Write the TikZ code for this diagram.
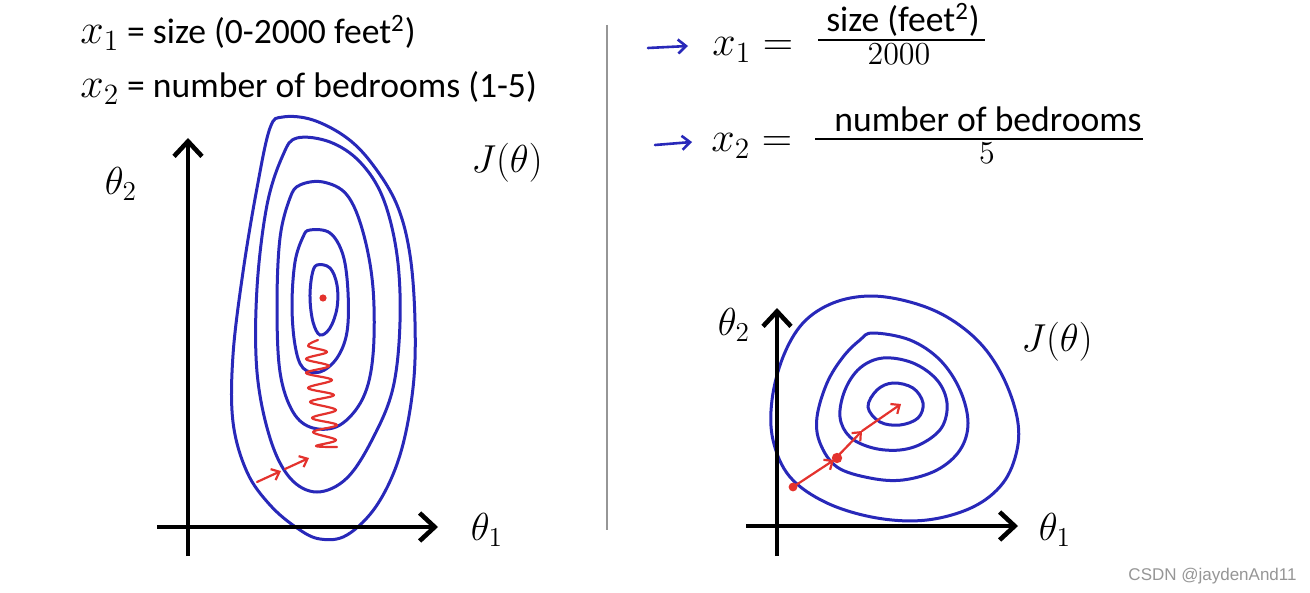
\RequirePackage{fix-cm}
\documentclass[tikz,border=0pt]{standalone}
\usepackage[no-math]{fontspec}
\setmainfont{Carlito}
\newfontfamily\wmfont{Liberation Sans}
\usetikzlibrary{arrows.meta}
\definecolor{cblue}{RGB}{40,40,185}
\definecolor{cred}{RGB}{228,50,45}
\definecolor{sepgray}{RGB}{150,150,150}
\newcommand\mymath{\fontsize{19.5}{22}\selectfont}
\newcommand\mybigmath{\fontsize{21}{24}\selectfont}
\newcommand\mytext{\fontsize{17.8}{20}\selectfont}
\tikzset{
  axis/.style={line width=2.3pt,-{Straight Barb[length=7.5pt,width=14pt,line width=2.3pt]}},
  contour/.style={cblue,line width=1.5pt},
  redpath/.style={cred,line width=1.1pt,line cap=round,line join=round},
  redarrow/.style={redpath,-{Straight Barb[length=3.5pt,width=6pt,line width=1.1pt]}},
  bluearrow/.style={cblue,line width=1.3pt,line cap=round,-{Straight Barb[length=4pt,width=7pt,line width=1.3pt]}},
  mlbl/.style={inner sep=0,font=\mymath},
  tlbl/.style={inner sep=0,font=\mytext},
}
\begin{document}
\begin{tikzpicture}[x=0.5pt,y=-0.5pt]
\useasboundingbox[fill=white] (0,0) rectangle (1310,593);

% ---------- top-left texts ----------
\node[tlbl,anchor=base west] (t1) at (80,44) {{\mybigmath$x_1$} = size (0-2000 feet\textsuperscript{2})};
\node[tlbl,anchor=base west] (t2) at (80,98) {{\mybigmath$x_2$} = number of bedrooms (1-5)};

% ---------- separator ----------
\coordinate (sepT) at (607,25);
\coordinate (sepB) at (607,530);
\draw[sepgray,line width=0.8pt] (sepT) -- (sepB);

% ---------- left plot ----------
\draw[contour] plot[smooth cycle,tension=0.6] coordinates {(283,117) (313,120) (347,138) (373,165) (397,205) (410,255) (415,322) (413,388) (400,455) (377,505) (347,535) (320,539) (297,528) (270,505) (247,472) (233,422) (233,355) (243,272) (257,188) (270,128)};
\draw[contour] plot[smooth cycle,tension=0.6] coordinates {(297,138) (330,142) (360,162) (383,198) (397,255) (400,322) (393,388) (373,438) (347,478) (317,492) (290,478) (270,438) (257,372) (257,288) (267,205) (283,155)};
\draw[contour] plot[smooth cycle,tension=0.6] coordinates {(300,185) (323,182) (347,195) (363,232) (373,288) (373,355) (363,398) (340,425) (313,428) (293,412) (280,372) (277,305) (280,238) (290,198)};
\draw[contour] plot[smooth cycle,tension=0.6] coordinates {(310,230) (330,233) (343,255) (348,292) (347,332) (337,358) (320,372) (303,368) (295,345) (292,305) (295,262) (303,237)};
\draw[contour] plot[smooth cycle,tension=0.6] coordinates {(317,265) (330,268) (337,285) (337,308) (330,328) (320,335) (313,322) (310,298) (312,275)};

\fill[cred] (323,298) circle (1.8pt);
\draw[redpath] plot[smooth,tension=0.6] coordinates {(318,340) (308,346) (327,352) (306,359) (329,366) (306,373) (332,380) (308,388) (334,395) (310,402) (336,410) (312,418) (337,425) (313,432) (336,440) (316,446) (337,447)};
\coordinate (la1s) at (257,482);
\coordinate (la1e) at (281,471);
\coordinate (la2s) at (285,469);
\coordinate (la2e) at (309,458);
\draw[redarrow] (la1s) -- (la1e);
\draw[redarrow] (la2s) -- (la2e);

\coordinate (lyB) at (188,556);
\coordinate (lyT) at (188,138);
\coordinate (lxL) at (157,527);
\coordinate (lxR) at (438,527);
\draw[axis] (lyB) -- (lyT);
\draw[axis] (lxL) -- (lxR);
\node[mlbl] (lth2) at (121,184) {$\theta_2$};
\node[mlbl] (lth1) at (487,530) {$\theta_1$};
\node[mlbl] (lJ) at (507,163) {$J(\theta)$};

% ---------- right top formulas ----------
\coordinate (ba1s) at (648,48);
\coordinate (ba1e) at (688,46);
\coordinate (ba2s) at (655,145);
\coordinate (ba2e) at (692,142);
\draw[bluearrow] (ba1s) -- (ba1e);
\draw[bluearrow] (ba2s) -- (ba2e);

\node[inner sep=0,font=\mybigmath,anchor=base west] (rx1) at (712,56) {$x_1 =$};
\node[tlbl,anchor=base] (num1) at (903,32) {size (feet\textsuperscript{2})};
\node[inner sep=0,anchor=base,font=\fontsize{16}{18}\selectfont] (den1) at (899,65) {$2000$};
\coordinate (f1a) at (818,40);
\coordinate (f1b) at (985,40);
\draw[line width=0.9pt] (f1a) -- (f1b);

\node[inner sep=0,font=\mybigmath,anchor=base west] (rx2) at (711,152) {$x_2 =$};
\node[tlbl,anchor=base] (num2) at (988,132) {number of bedrooms};
\node[inner sep=0,anchor=base,font=\fontsize{16}{18}\selectfont] (den2) at (987,164) {$5$};
\coordinate (f2a) at (815,139);
\coordinate (f2b) at (1143,139);
\draw[line width=0.9pt] (f2a) -- (f2b);

% ---------- right plot ----------
\draw[contour] plot[smooth cycle,tension=0.6] coordinates {(870,296) (910,302) (947,317) (980,343) (1003,377) (1017,417) (1017,450) (1003,483) (973,507) (927,520) (877,518) (827,503) (790,477) (773,440) (772,400) (783,357) (803,323) (833,303)};
\draw[contour] plot[smooth cycle,tension=0.6] coordinates {(873,333) (910,340) (940,360) (960,390) (968,423) (960,450) (937,470) (903,480) (870,478) (837,467) (820,443) (817,417) (827,383) (843,357) (860,340)};
\draw[contour] plot[smooth cycle,tension=0.6] coordinates {(883,358) (913,363) (937,380) (947,403) (942,427) (923,443) (900,450) (873,448) (850,437) (840,417) (845,390) (860,368)};
\draw[contour] plot[smooth cycle,tension=0.6] coordinates {(893,383) (913,388) (923,403) (918,418) (900,425) (880,422) (868,407) (877,390)};

\coordinate (rp0) at (793,487);
\coordinate (rp1) at (834,460);
\coordinate (rp2) at (862,431);
\coordinate (rp3) at (901,404);
\fill[cred] (rp0) circle (2.2pt);
\fill[cred] (837,458) circle (2.6pt);
\draw[redarrow] (rp0) -- (rp1);
\draw[redarrow] (rp1) -- (rp2);
\draw[redarrow] (rp2) -- (rp3);

\coordinate (ryB) at (777,556);
\coordinate (ryT) at (777,308);
\coordinate (rxL) at (746,526);
\coordinate (rxR) at (1018,526);
\draw[axis] (ryB) -- (ryT);
\draw[axis] (rxL) -- (rxR);
\node[mlbl] (rth2) at (734,325) {$\theta_2$};
\node[mlbl] (rth1) at (1055,530) {$\theta_1$};
\node[mlbl] (rJ) at (1057,342) {$J(\theta)$};

% ---------- watermark ----------
\node[inner sep=0,anchor=base east,text=sepgray,font=\wmfont\fontsize{8.5}{10}\selectfont] (wm) at (1297,580) {CSDN @jaydenAnd11};
\end{tikzpicture}
\end{document}
